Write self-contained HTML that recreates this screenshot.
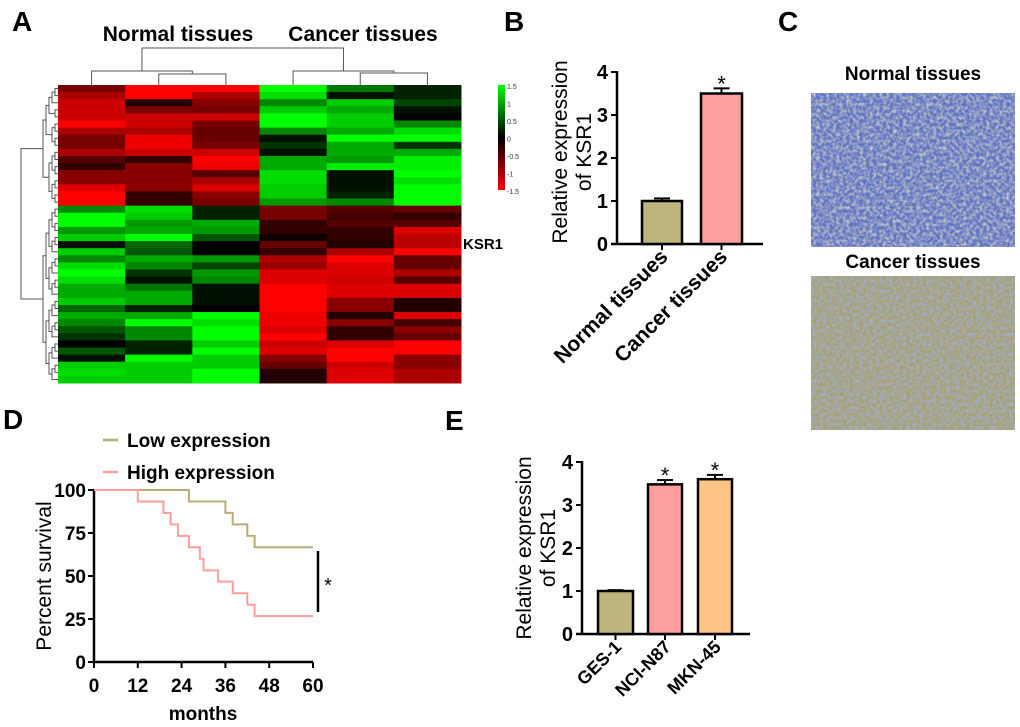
<!DOCTYPE html>
<html><head><meta charset="utf-8"><style>
html,body{margin:0;padding:0;background:#fff;}
svg{display:block;font-family:"Liberation Sans",Arial,sans-serif;}
.b{font-weight:bold;}
</style></head><body>
<svg id="fig" width="1020" height="727" viewBox="0 0 1020 727" xmlns="http://www.w3.org/2000/svg">
<defs>
<filter id="tex1" x="0" y="0" width="100%" height="100%">
<feTurbulence type="fractalNoise" baseFrequency="0.3" numOctaves="2" seed="3"/>
<feColorMatrix type="matrix" values="0 0 0 0 0.8  0 0 0 0 0.76  0 0 0 0 0.55  0 0 0 1.6 -0.55"/>
</filter>
<filter id="tex2" x="0" y="0" width="100%" height="100%">
<feTurbulence type="fractalNoise" baseFrequency="0.3" numOctaves="2" seed="7"/>
<feColorMatrix type="matrix" values="0 0 0 0 0.35  0 0 0 0 0.45  0 0 0 0 0.8  0 0 0 1.6 -0.5"/>
</filter>
</defs>
<g class="b" font-size="28">
<text x="12" y="31">A</text>
<text x="504" y="31">B</text>
<text x="778" y="31">C</text>
<text x="3" y="429">D</text>
<text x="445" y="430">E</text>
</g>
<g id="heat">
<text x="178" y="41" class="b" font-size="21" text-anchor="middle">Normal tissues</text>
<text x="363" y="41" class="b" font-size="21" text-anchor="middle">Cancer tissues</text>
<text x="463" y="249" class="b" font-size="15">KSR1</text>
<g id="cells"></g>
<g id="dendro" stroke="#555" stroke-width="1" fill="none"></g>
<g>
<defs><linearGradient id="cg" x1="0" y1="0" x2="0" y2="1"><stop offset="0" stop-color="#00ff00"/><stop offset="0.5" stop-color="#000"/><stop offset="1" stop-color="#ff0000"/></linearGradient></defs>
<rect x="498" y="85" width="7" height="105" fill="url(#cg)"/>
<g id="cscale" font-size="7" fill="#333"></g>
</g>
</g>
<g id="panelB"></g>
<g>
<text x="913" y="80" class="b" font-size="19" text-anchor="middle">Normal tissues</text>
<rect x="811" y="93" width="204" height="154" fill="#5f74c6"/>
<rect x="811" y="93" width="204" height="154" filter="url(#tex1)"/>
<text x="913" y="268" class="b" font-size="19" text-anchor="middle">Cancer tissues</text>
<rect x="811" y="276" width="204" height="154" fill="#a8a070"/>
<rect x="811" y="276" width="204" height="154" filter="url(#tex2)"/>
</g>
<g id="panelD"></g>
<g id="panelE"></g>
</svg>
<script>
// ---------- Heatmap data ----------
const heatCols = ["N1","N2","N3","C1","C2","C3"];
const heatTop = [
[-0.7,-1.5,-1.5,1.5,0.7,0.2],[-1.0,-1.5,-1.0,1.3,0.1,0.2],[-1.2,-0.2,-0.8,0.8,1.2,0.4],
[-1.2,-0.7,-0.7,1.2,1.0,0.1],[-1.2,-1.2,-1.2,1.5,1.2,0.0],[-1.5,-1.2,-0.7,1.5,1.2,0.8],
[-1.0,-1.0,-0.6,0.8,1.0,1.3],[-0.7,-1.4,-0.6,0.1,1.5,1.5],[-0.7,-1.4,-0.7,0.3,1.0,0.3],
[-1.0,-1.2,-1.2,0.1,1.0,1.0],[-0.5,-0.3,-1.5,1.0,0.9,1.4],[-0.3,-0.8,-1.4,1.0,1.4,1.4],
[-0.8,-0.8,-0.5,1.3,0.1,1.5],[-0.8,-0.8,-1.0,1.3,0.1,1.3],[-1.3,-0.8,-1.3,1.2,0.1,1.5],
[-1.5,-0.3,-0.8,1.2,0.2,1.5],[-1.5,-0.3,-0.7,0.9,0.8,1.5]];
const heatBottom = [
[0.8,1.3,0.2,-0.7,-0.5,-0.6],[1.5,1.2,0.2,-0.7,-0.4,-0.3],[1.5,0.9,1.0,-0.3,-0.5,-0.5],
[0.9,1.0,0.9,-0.3,-0.3,-1.3],[1.2,1.5,0.5,-0.1,-0.3,-1.1],[0.1,0.6,0.0,-0.6,-0.2,-1.1],
[1.2,0.5,0.0,-0.3,-1.0,-1.5],[0.8,1.0,0.9,-1.0,-1.5,-0.6],[1.3,0.8,0.4,-0.9,-1.3,-0.6],
[1.5,0.3,0.9,-1.3,-1.3,-1.0],[1.3,0.1,0.8,-1.3,-1.2,-0.5],[1.0,0.7,0.1,-1.5,-1.3,-1.3],
[1.0,1.0,0.1,-1.5,-1.3,-1.3],[1.2,1.0,0.1,-1.5,-0.8,-0.2],[0.6,0.2,0.0,-1.5,-0.8,-0.2],
[1.0,1.0,1.5,-1.4,-0.2,-1.3],[0.8,1.5,1.3,-1.4,-0.8,-0.4],[0.5,0.8,1.5,-1.3,-0.3,-0.8],
[0.3,0.8,1.5,-1.5,-0.3,-0.6],[0.0,0.2,1.2,-1.2,-1.3,-1.5],[0.5,0.2,1.5,-1.3,-1.5,-1.5],
[0.1,1.5,1.2,-0.8,-1.5,-0.8],[1.2,1.2,1.2,-0.6,-1.2,-0.8],[1.3,1.2,1.5,-0.2,-1.3,-1.0],
[1.2,1.2,1.5,-0.2,-1.3,-1.0]];
const scaleTicks = [1.5,1,0.5,0,-0.5,-1,-1.5];

// ---------- Panel B data ----------
const bCats = ["Normal tissues","Cancer tissues"];
const bVals = [1.0,3.5];
const bErr = [0.06,0.12];
const bSig = ["","*"];
const bTicks = [0,1,2,3,4];

// ---------- Panel D data ----------
const dTimesLow = [0,26,36,38,42,44,60];
const dSurvLow = [100,93.3,86.7,80,73.3,66.7,66.7];
const dTimesHigh = [0,12,19,21,23,26,29,30,34,38,42,44,60];
const dSurvHigh = [100,93.3,86.7,80,73.3,66.7,60,53.3,46.7,40,33.3,26.7,26.7];
const dXTicks = [0,12,24,36,48,60];
const dYTicks = [0,25,50,75,100];

// ---------- Panel E data ----------
const eCats = ["GES-1","NCI-N87","MKN-45"];
const eVals = [1.0,3.48,3.6];
const eErr = [0.02,0.1,0.1];
const eSig = ["","*","*"];
const eTicks = [0,1,2,3,4];

const NS="http://www.w3.org/2000/svg";
function mk(tag,attrs,parent){const e=document.createElementNS(NS,tag);for(const k in attrs)e.setAttribute(k,attrs[k]);parent.appendChild(e);return e;}

// Heatmap
(function(){
 const g=document.getElementById('cells');
 const rows=heatTop.concat(heatBottom);
 const x0=58,x1=461,y0=85,y1=383;
 const cw=(x1-x0)/heatCols.length, rh=(y1-y0)/rows.length;
 function col(v){const t=Math.min(1,Math.abs(v)/1.5);const c=Math.round(t*255);return v>=0?`rgb(0,${c},0)`:`rgb(${c},0,0)`;}
 rows.forEach((r,i)=>r.forEach((v,j)=>{
  const c=mk('rect',{x:x0+j*cw,y:y0+i*rh,width:cw+0.5,height:rh+0.5,fill:col(v)},g);
  
  
 }));
 const d=document.getElementById('dendro');
 function path(p){const e=mk('path',{d:p},d);}
 const cc=heatCols.map((_,j)=>x0+(j+0.5)*cw);
 const m1=(cc[1]+cc[2])/2, m2=(cc[4]+cc[5])/2;
 path(`M${cc[1]},85V74H${cc[2]}V85`);
 path(`M${cc[4]},85V73H${cc[5]}V85`);
 const lA=(cc[0]+m1)/2, lB=(cc[3]+m2)/2;
 path(`M${cc[0]},85V71H${m1}V74`);
 path(`M${cc[3]},85V71H${m2}V73`);
 path(`M${lA},71V48H${lB}V71`);
 function tree(a,b){
  if(a===b)return [y0+(a+0.5)*rh,x0];
  const m=Math.floor((a+b)/2);
  const L=tree(a,m),R=tree(m+1,b);
  const x=Math.min(L[1],R[1])-3;
  path(`M${L[1]},${L[0]}H${x}V${R[0]}H${R[1]}`);
  return [(L[0]+R[0])/2,x];
 }
 const T=tree(0,heatTop.length-1);
 const B=tree(heatTop.length,rows.length-1);
 path(`M${T[1]},${T[0]}H21V${B[0]}H${B[1]}`);
 const cs=document.getElementById('cscale');
 scaleTicks.forEach(v=>{const t=mk('text',{x:507,y:85+(1.5-v)/3*105+4},cs);t.textContent=v;
  });
})();

function barChart(gid,cats,vals,err,sig,ticks,box,colors,labels){
 const g=document.getElementById(gid);
 const {ax,ay0,ay1,axEnd,bars}=box;
 const ys=v=>ay0-(v/4)*(ay0-ay1);
 mk('line',{x1:ax,y1:ay1-1,x2:ax,y2:ay0,stroke:'#000','stroke-width':2.5},g);
 mk('line',{x1:ax-6,y1:ay0,x2:axEnd,y2:ay0,stroke:'#000','stroke-width':2.5},g);
 ticks.forEach(t=>{mk('line',{x1:ax-6,y1:ys(t),x2:ax,y2:ys(t),stroke:'#000','stroke-width':2},g);
  const tx=mk('text',{x:ax-9,y:ys(t)+7,'text-anchor':'end','font-size':20,'font-weight':'bold'},g);tx.textContent=t;
  });
 cats.forEach((c,i)=>{
  const [bx0,bx1]=bars[i];const cx=(bx0+bx1)/2;
  const r=mk('rect',{x:bx0,y:ys(vals[i]),width:bx1-bx0,height:ay0-ys(vals[i]),fill:colors[i],stroke:'#000','stroke-width':2.5},g);
  
  const ye=ys(vals[i]+err[i]);
  mk('line',{x1:cx,y1:ys(vals[i]),x2:cx,y2:ye,stroke:'#000','stroke-width':2},g);
  mk('line',{x1:cx-8,y1:ye,x2:cx+8,y2:ye,stroke:'#000','stroke-width':2},g);
  mk('line',{x1:cx,y1:ay0,x2:cx,y2:ay0+6,stroke:'#000','stroke-width':2},g);
  if(sig[i]){const s=mk('text',{x:cx,y:ye+3,'text-anchor':'middle','font-size':22},g);s.textContent=sig[i];
   }
  const lt=mk('text',{x:cx+7,y:ay0+14,'text-anchor':'end','font-size':box.catSize,'font-weight':'bold',transform:`rotate(-45 ${cx+7} ${ay0+14})`},g);
  lt.textContent=c;
 });
 labels.forEach((l,k)=>{const t=mk('text',{x:l[0],y:l[1],'text-anchor':'middle','font-size':21,transform:`rotate(-90 ${l[0]} ${l[1]})`},g);
  t.textContent=l[2];});
}
barChart('panelB',bCats,bVals,bErr,bSig,bTicks,{ax:617,ay0:244,ay1:72,axEnd:763,bars:[[642,682],[701,742]],catSize:21},['#bdb57d','#ff9e9e'],[[567,152,'Relative expression'],[591,152,'of KSR1']]);
barChart('panelE',eCats,eVals,eErr,eSig,eTicks,{ax:582,ay0:634,ay1:462,axEnd:750,bars:[[598,633],[648,682],[698,732]],catSize:18},['#bdb57d','#ff9e9e','#ffc485'],[[531,548,'Relative expression'],[555,548,'of KSR1']]);

// Panel D
(function(){
 const g=document.getElementById('panelD');
 const X0=94,X1=313,Y0=662,Y1=490;
 const xs=t=>X0+t/60*(X1-X0), ys=v=>Y0-v/100*(Y0-Y1);
 mk('line',{x1:X0,y1:Y1,x2:X0,y2:Y0,stroke:'#000','stroke-width':2.5},g);
 mk('line',{x1:X0,y1:Y0,x2:X1,y2:Y0,stroke:'#000','stroke-width':2.5},g);
 dYTicks.forEach(t=>{mk('line',{x1:X0-6,y1:ys(t),x2:X0,y2:ys(t),stroke:'#000','stroke-width':2},g);
  const tx=mk('text',{x:X0-8,y:ys(t)+7,'text-anchor':'end','font-size':19,'font-weight':'bold'},g);tx.textContent=t;
  });
 dXTicks.forEach(t=>{mk('line',{x1:xs(t),y1:Y0,x2:xs(t),y2:Y0+6,stroke:'#000','stroke-width':2},g);
  const tx=mk('text',{x:xs(t),y:Y0+30,'text-anchor':'middle','font-size':19,'font-weight':'bold'},g);tx.textContent=t;
  });
 function step(T,S){let d=`M${xs(T[0])},${ys(S[0])}`;for(let i=1;i<T.length;i++){d+=`H${xs(T[i])}V${ys(S[i])}`;}return d;}
 const l1=mk('path',{d:step(dTimesLow,dSurvLow),stroke:'#b9ae78','stroke-width':2,fill:'none'},g);
 
 const l2=mk('path',{d:step(dTimesHigh,dSurvHigh),stroke:'#ff9e9e','stroke-width':2,fill:'none'},g);
 
 mk('line',{x1:318,y1:551,x2:318,y2:612,stroke:'#000','stroke-width':2.5},g);
 const st=mk('text',{x:328,y:592,'font-size':20,'text-anchor':'middle'},g);st.textContent='*';
 
 const yl=mk('text',{x:51,y:576,'text-anchor':'middle','font-size':21,transform:'rotate(-90 51 576)'},g);yl.textContent='Percent survival';
 
 const xl=mk('text',{x:203,y:720,'text-anchor':'middle','font-size':19,'font-weight':'bold'},g);xl.textContent='months';
 
 [['Low expression','#b9ae78',440],['High expression','#ff9e9e',472]].forEach(L=>{
  mk('line',{x1:103,y1:L[2],x2:118,y2:L[2],stroke:L[1],'stroke-width':2.5},g);
  const t=mk('text',{x:127,y:L[2]+7,'font-size':19,'font-weight':'bold'},g);t.textContent=L[0];
  
 });
})();
</script>
</body></html>
